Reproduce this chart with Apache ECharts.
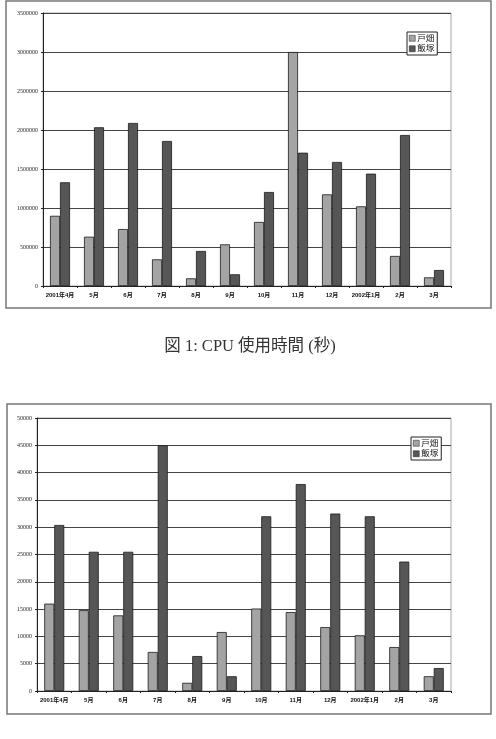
<!DOCTYPE html>
<html><head><meta charset="utf-8">
<script src="https://cdn.jsdelivr.net/npm/echarts@6/dist/echarts.min.js"></script>
<style>html,body{margin:0;padding:0;background:#fff;}#c{width:496px;height:739px;}</style>
</head><body><div id="c"></div>
<script>
const categories = ['2001年4月','5月','6月','7月','8月','9月','10月','11月','12月','2002年1月','2月','3月'];
const seriesNames = ['戸畑','飯塚'];
const cpuTobata = [900000, 632000, 730000, 342000, 98000, 534000, 821000, 3000000, 1175000, 1021000, 385000, 111000];
const cpuIizuka = [1330000, 2035000, 2090000, 1859000, 449000, 150000, 1205000, 1709000, 1590000, 1440000, 1936000, 205000];
const cntTobata = [16000, 14800, 13850, 7150, 1500, 10800, 15100, 14450, 11700, 10200, 8050, 2700];
const cntIizuka = [30400, 25500, 25500, 45000, 6400, 2700, 32000, 37900, 32500, 32000, 23700, 4200];
const caption = '図 1: CPU 使用時間 (秒)';

const FONT = '"Liberation Sans","Noto Sans CJK JP",sans-serif';
const chart = echarts.init(document.getElementById('c'), null, {renderer:'canvas'});
const lightC = '#a4a4a4', darkC = '#565656';

function xAxis(gi){
  return {type:'category', gridIndex:gi, data:categories,
    axisLine:{lineStyle:{color:'#222', width:1}},
    axisTick:{show:true, length:2, lineStyle:{color:'#222'}},
    axisLabel:{fontSize:6, color:'#111', fontWeight:'bold', margin:6, fontFamily:FONT, interval:0}};
}
function yAxis(gi, max, itv){
  return {type:'value', gridIndex:gi, min:0, max:max, interval:itv,
    axisLine:{show:true, lineStyle:{color:'#222', width:1}},
    axisTick:{show:true, length:2, lineStyle:{color:'#222'}},
    axisLabel:{fontSize:6, color:'#222', margin:5, fontFamily:'"Liberation Serif",serif', formatter:function(v){return String(v);}},
    splitLine:{show:true, lineStyle:{color:'#444', width:1}}};
}
function bar(name, data, gi, color){
  return {type:'bar', name:name, data:data, xAxisIndex:gi, yAxisIndex:gi,
    barWidth:10, barGap:'0%', itemStyle:{color:color, borderColor:'#1a1a1a', borderWidth:0.8},
    emphasis:{disabled:true}};
}
function legend(left, top){
  return {orient:'vertical', left:left, top:top, data:seriesNames, icon:'rect',
    itemWidth:6, itemHeight:6, itemGap:2, padding:[2,3,2,2],
    itemStyle:{borderWidth:0.5, borderColor:'#222'},
    borderColor:'#222', borderWidth:1, backgroundColor:'#fff',
    textStyle:{fontSize:8.5, color:'#111', fontFamily:FONT, padding:[0,0,0,-3]}};
}
chart.setOption({
  animation:false,
  grid:[
    {left:43, top:13, width:408, height:273, show:true, borderColor:'#aaa', borderWidth:1, backgroundColor:'#fff'},
    {left:37, top:418, width:414, height:273, show:true, borderColor:'#aaa', borderWidth:1, backgroundColor:'#fff'}
  ],
  xAxis:[xAxis(0), xAxis(1)],
  yAxis:[yAxis(0, 3500000, 500000), yAxis(1, 50000, 5000)],
  legend:[legend(407, 32), legend(411, 437)],
  series:[
    bar(seriesNames[0], cpuTobata, 0, lightC),
    bar(seriesNames[1], cpuIizuka, 0, darkC),
    bar(seriesNames[0], cntTobata, 1, lightC),
    bar(seriesNames[1], cntIizuka, 1, darkC)
  ],
  graphic:[
    {type:'rect', shape:{x:6, y:1, width:485, height:307}, style:{fill:null, stroke:'#777', lineWidth:1.5}, z:-10, silent:true},
    {type:'rect', shape:{x:7, y:404, width:484, height:310}, style:{fill:null, stroke:'#777', lineWidth:1.5}, z:-10, silent:true},
    {type:'text', x:250, y:347, style:{text:caption, fill:'#333', font:'16.5px "Liberation Serif","Noto Sans CJK JP",serif', textAlign:'center', textVerticalAlign:'middle'}, silent:true}
  ]
});
</script></body></html>
